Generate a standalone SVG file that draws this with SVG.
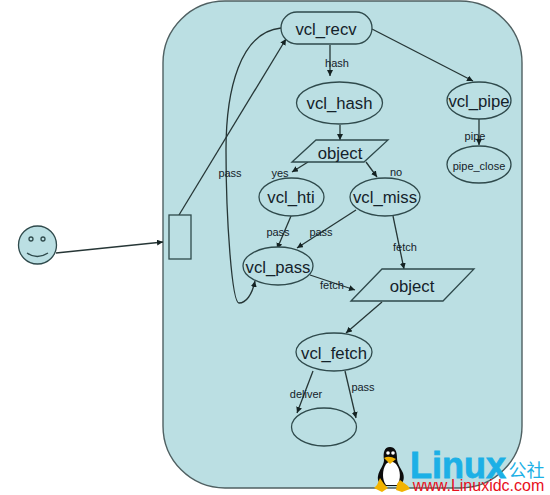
<svg xmlns="http://www.w3.org/2000/svg" width="550" height="495" viewBox="0 0 550 495">
<defs>
<marker id="a" markerWidth="7" markerHeight="7" refX="6" refY="3" orient="auto" markerUnits="userSpaceOnUse"><path d="M0 0L6 3L0 6Z" fill="#142222"/></marker>
</defs>
<style>
.s{fill:#bbdfe3;stroke:#2f4a4c;stroke-width:1.3}
.b{fill:#bbdfe3;stroke:#4f6062;stroke-width:1.4}
.c{fill:none;stroke:#263636;stroke-width:1.3;marker-end:url(#a)}
text{font-family:"Liberation Sans",Arial,sans-serif;fill:#14222a;text-anchor:middle}
.n{font-size:16.7px}
.l{font-size:11px}
</style>
<rect width="550" height="495" fill="#fff"/>
<rect id="container" class="b" x="163" y="1" width="359" height="487" rx="62" ry="62"/>
<g id="connectors">
<path class="c" d="M56 253L163 242"/>
<path class="c" d="M179 215L286 39"/>
<path class="c" d="M281 28C240 32 226 90 226 150C226 220 232 303 239 303C246 303 252 295 255 281"/>
<path class="c" d="M330 45V76"/>
<path class="c" d="M372 29L473 81"/>
<path class="c" d="M340 125V140"/>
<path class="c" d="M479 119V145"/>
<path class="c" d="M308 162L292 172"/>
<path class="c" d="M366 162L377 177"/>
<path class="c" d="M291 216L277 249"/>
<path class="c" d="M356 210L297 248"/>
<path class="c" d="M393 216L404 269"/>
<path class="c" d="M310 275L355 290"/>
<path class="c" d="M382 302L346 333"/>
<path class="c" d="M313 371L297 413"/>
<path class="c" d="M345 371L356 418"/>
</g>
<g id="actor"><circle class="s" cx="37.500" cy="245" r="19"/><circle class="s" cx="31" cy="239" r="2"/><circle class="s" cx="43" cy="239" r="2"/><path d="M27 253Q37 260 48 253" fill="none" stroke="#2f4a4c" stroke-width="1.4"/></g>
<g id="box"><rect class="s" x="169" y="215" width="22" height="44"/></g>
<g id="vcl_recv"><rect class="s" x="281" y="12" width="91" height="32" rx="16" ry="16"/><text class="n" x="326" y="35">vcl_recv</text></g>
<g id="vcl_hash"><ellipse class="s" cx="339.500" cy="103" rx="43" ry="21"/><text class="n" x="339.500" y="109">vcl_hash</text></g>
<g id="vcl_pipe"><ellipse class="s" cx="479" cy="100.500" rx="32" ry="18.500"/><text class="n" x="479" y="107">vcl_pipe</text></g>
<g id="pipe_close"><ellipse class="s" cx="479" cy="164.500" rx="32" ry="18.500"/><text x="479" y="170" font-size="11">pipe_close</text></g>
<g id="object1"><path class="s" d="M292 162L316 140H388L364 162Z"/><text class="n" x="340" y="159">object</text></g>
<g id="vcl_hti"><ellipse class="s" cx="291.500" cy="197" rx="32.500" ry="19"/><text class="n" x="291" y="203">vcl_hti</text></g>
<g id="vcl_miss"><ellipse class="s" cx="385" cy="197" rx="35" ry="19"/><text class="n" x="385" y="203">vcl_miss</text></g>
<g id="vcl_pass"><ellipse class="s" cx="278" cy="266" rx="35" ry="19"/><text class="n" x="278" y="273">vcl_pass</text></g>
<g id="object2"><path class="s" d="M351 301L382 269H474L443 301Z"/><text class="n" x="412" y="292">object</text></g>
<g id="vcl_fetch"><ellipse class="s" cx="334" cy="352" rx="38" ry="19"/><text class="n" x="334" y="359">vcl_fetch</text></g>
<g id="end"><ellipse class="s" cx="324" cy="427" rx="32.500" ry="19"/></g>
<g id="labels">
<text class="l" x="337" y="67">hash</text>
<text class="l" x="230" y="177">pass</text>
<text class="l" x="280" y="177">yes</text>
<text class="l" x="396" y="176">no</text>
<text class="l" x="475" y="140">pipe</text>
<text class="l" x="278" y="236">pass</text>
<text class="l" x="321" y="236">pass</text>
<text class="l" x="405" y="251">fetch</text>
<text class="l" x="332" y="289">fetch</text>
<text class="l" x="306" y="398">deliver</text>
<text class="l" x="363" y="391">pass</text>
</g>
<g id="watermark">
<path d="M390 447C384 447 383 453 384 460C384 465 379 470 378 476C377 481 380 485 384 486H398C403 484 405 479 403 473C401 468 397 464 397 458C397 451 395 447 390 447Z" fill="#0c0c0c"/>
<path d="M386 464C382 470 382 480 386 485H397C401 480 401 470 396 464C393 461 389 461 386 464Z" fill="#fff"/>
<circle cx="388" cy="453" r="1.800" fill="#fff"/><circle cx="393" cy="453" r="1.800" fill="#fff"/>
<path d="M384 458Q389 455 396 459L390 464Z" fill="#f2b300"/>
<path d="M380 478L384 484L388 488L382 492L374 488L377 485Z M400 480L408 486L410 489L402 492L396 490L397 484Z" fill="#f2b300"/>
<text x="410" y="478" font-size="36" font-weight="700" style="fill:#1cb0e6;text-anchor:start;stroke:#1cb0e6;stroke-width:.8">Linux</text>
<text x="526.500" y="477" font-size="18" style="fill:#1cb0e6;font-family:'Noto Sans CJK SC',sans-serif">公社</text>
<text x="478.500" y="491" font-size="16" style="fill:#e8101c">www.Linuxidc.com</text>
</g>
</svg>
